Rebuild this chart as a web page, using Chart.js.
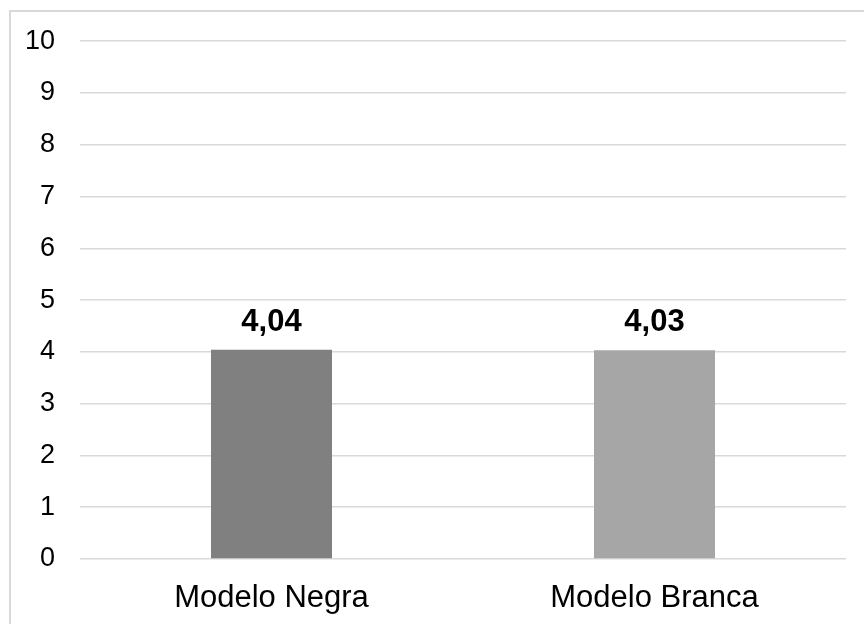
<!DOCTYPE html>
<html>
<head>
<meta charset="utf-8">
<script src="https://cdn.jsdelivr.net/npm/chart.js@4/dist/chart.umd.min.js"></script>
<style>
  html, body { margin: 0; padding: 0; background: #ffffff; }
  #wrap { width: 864px; height: 624px; position: relative; }
</style>
</head>
<body>
<div id="wrap"><canvas id="c" width="864" height="624"></canvas></div>
<script>
// Média por modelo
const categories = ['Modelo Negra', 'Modelo Branca'];
const values = [4.04, 4.03];
const barColors = ['#808080', '#a6a6a6'];
const yTicks = [0, 1, 2, 3, 4, 5, 6, 7, 8, 9, 10];

const FONT = '"Liberation Sans", Arial, sans-serif';

// Formats a value with a decimal comma
const fmt = v => v.toFixed(2).replace('.', ',');

// Light frame around the chart
const framePlugin = {
  id: 'frame',
  beforeDraw(chart) {
    const ctx = chart.ctx;
    ctx.save();
    ctx.strokeStyle = '#d9d9d9';
    ctx.lineWidth = 2;
    ctx.beginPath();
    ctx.moveTo(10, 624);
    ctx.lineTo(10, 11);
    ctx.lineTo(864, 11);
    ctx.stroke();
    ctx.restore();
  }
};

// Value labels above each bar
const valueLabels = {
  id: 'valueLabels',
  afterDatasetsDraw(chart) {
    const ctx = chart.ctx;
    const meta = chart.getDatasetMeta(0);
    ctx.save();
    ctx.font = 'bold 31px ' + FONT;
    ctx.fillStyle = '#000000';
    ctx.textAlign = 'center';
    ctx.textBaseline = 'alphabetic';
    meta.data.forEach((bar, i) => {
      ctx.fillText(fmt(values[i]), bar.x, bar.y - 19);
    });
    ctx.restore();
  }
};

new Chart(document.getElementById('c'), {
  type: 'bar',
  data: {
    labels: categories,
    datasets: [{
      data: values,
      backgroundColor: barColors,
      borderWidth: 0,
      barPercentage: 0.316,
      categoryPercentage: 1
    }]
  },
  options: {
    responsive: false,
    animation: false,
    events: [],
    layout: { padding: { left: 0, top: 40, right: 18, bottom: 0 } },
    plugins: {
      legend: { display: false },
      tooltip: { enabled: false }
    },
    scales: {
      x: {
        grid: { display: false, drawTicks: false },
        border: { display: false },
        ticks: {
          color: '#000000',
          font: { family: FONT, size: 31 },
          padding: 21
        },
        afterFit(scale) { scale.height = 65; }
      },
      y: {
        min: 0,
        max: 10,
        afterBuildTicks(scale) {
          scale.ticks = yTicks.map(v => ({ value: v }));
        },
        grid: { color: '#d9d9d9', lineWidth: 1.5, drawTicks: false },
        border: { display: false },
        ticks: {
          color: '#000000',
          font: { family: FONT, size: 27 },
          padding: 25
        },
        afterFit(scale) { scale.width = 80; }
      }
    }
  },
  plugins: [framePlugin, valueLabels]
});
</script>
</body>
</html>
